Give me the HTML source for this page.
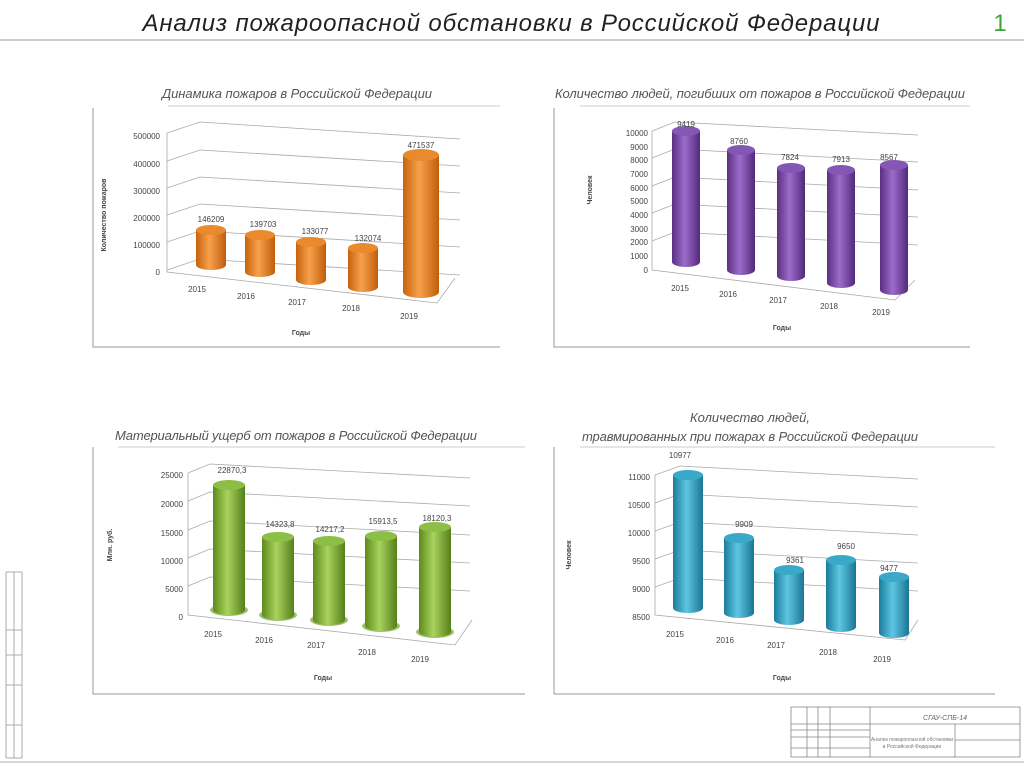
<!DOCTYPE html>
<html><head><meta charset="utf-8"><style>
html,body{margin:0;padding:0;background:#fff;}
svg{display:block;font-family:"Liberation Sans",sans-serif;}
</style></head><body>
<svg width="1024" height="767" viewBox="0 0 1024 767" xmlns="http://www.w3.org/2000/svg">
<defs>
<linearGradient id="go" x1="0" x2="1"><stop offset="0" stop-color="#c8620c"/><stop offset="0.45" stop-color="#f7a14d"/><stop offset="1" stop-color="#c05d0a"/></linearGradient>
<linearGradient id="gp" x1="0" x2="1"><stop offset="0" stop-color="#5b2f82"/><stop offset="0.45" stop-color="#9c6ccb"/><stop offset="1" stop-color="#52297a"/></linearGradient>
<linearGradient id="gg" x1="0" x2="1"><stop offset="0" stop-color="#5d8a1c"/><stop offset="0.45" stop-color="#a9d25e"/><stop offset="1" stop-color="#55801a"/></linearGradient>
<linearGradient id="gb" x1="0" x2="1"><stop offset="0" stop-color="#1b7c9c"/><stop offset="0.45" stop-color="#5ec6e2"/><stop offset="1" stop-color="#1a7593"/></linearGradient>
</defs>

<!-- header -->
<text x="511" y="31" text-anchor="middle" font-size="24" font-style="italic" fill="#222" textLength="737">Анализ пожароопасной обстановки в Российской Федерации</text>
<text x="1000" y="31" text-anchor="middle" font-size="24" fill="#3aa63a">1</text>
<line x1="0" y1="40" x2="1024" y2="40" stroke="#bbb" stroke-width="1.5"/>
<line x1="0" y1="762" x2="1024" y2="762" stroke="#ccc" stroke-width="1.5"/>

<!-- left stamp -->
<g stroke="#999" stroke-width="0.8" fill="none">
<rect x="6" y="572" width="16" height="186"/>
<line x1="14" y1="572" x2="14" y2="758"/>
<line x1="6" y1="630" x2="22" y2="630"/><line x1="6" y1="655" x2="22" y2="655"/>
<line x1="6" y1="685" x2="22" y2="685"/><line x1="6" y1="725" x2="22" y2="725"/>
</g>

<!-- title block -->
<g stroke="#888" stroke-width="0.8" fill="none">
<rect x="791" y="707" width="229" height="50"/>
<line x1="870" y1="707" x2="870" y2="757"/>
<line x1="791" y1="724" x2="1020" y2="724"/>
<line x1="791" y1="730" x2="870" y2="730"/><line x1="791" y1="737" x2="870" y2="737"/><line x1="791" y1="748" x2="870" y2="748"/>
<line x1="955" y1="724" x2="955" y2="757"/><line x1="955" y1="740" x2="1020" y2="740"/>
<line x1="807" y1="707" x2="807" y2="757"/><line x1="818" y1="707" x2="818" y2="757"/><line x1="830" y1="707" x2="830" y2="757"/>
</g>
<text x="945" y="720" font-size="7" fill="#666" font-style="italic" text-anchor="middle">СГАУ-СПБ-14</text>
<text x="912" y="741" font-size="5" fill="#777" text-anchor="middle">Анализ пожароопасной обстановки</text>
<text x="912" y="748" font-size="5" fill="#777" text-anchor="middle">в Российской Федерации</text>

<g font-size="8" fill="#444">
<!-- ============ Chart 1 ============ -->
<text x="297" y="98" text-anchor="middle" font-size="13" font-style="italic" fill="#555" textLength="270">Динамика пожаров в Российской Федерации</text>
<line x1="168" y1="106" x2="500" y2="106" stroke="#ccc"/>
<polyline points="93,108 93,347 500,347" fill="none" stroke="#999"/>
<g stroke="#aaa" stroke-width="0.8" fill="none">
<polyline points="167,133 200,122 460,139"/><polyline points="167,161 200,150 460,166"/>
<polyline points="167,188 200,177 460,193"/><polyline points="167,215 200,204 460,220"/>
<polyline points="167,242 200,231 460,247"/><polyline points="167,270 200,259 460,275"/>
<polyline points="167,133 167,272 437,303 455,278"/>
</g>
<g text-anchor="end"><text x="160" y="139">500000</text><text x="160" y="167">400000</text><text x="160" y="194">300000</text><text x="160" y="221">200000</text><text x="160" y="248">100000</text><text x="160" y="275">0</text></g>
<g fill="url(#go)">
<rect x="196" y="230" width="30" height="35"/><ellipse cx="211" cy="265" rx="15" ry="5"/><ellipse cx="211" cy="230" rx="15" ry="5" fill="#e98a2c"/>
<rect x="245" y="235" width="30" height="37"/><ellipse cx="260" cy="272" rx="15" ry="5"/><ellipse cx="260" cy="235" rx="15" ry="5" fill="#e98a2c"/>
<rect x="296" y="242" width="30" height="38"/><ellipse cx="311" cy="280" rx="15" ry="5"/><ellipse cx="311" cy="242" rx="15" ry="5" fill="#e98a2c"/>
<rect x="348" y="248" width="30" height="39"/><ellipse cx="363" cy="287" rx="15" ry="5"/><ellipse cx="363" cy="248" rx="15" ry="5" fill="#e98a2c"/>
<rect x="403" y="155" width="36" height="137"/><ellipse cx="421" cy="292" rx="18" ry="6"/><ellipse cx="421" cy="155" rx="18" ry="6" fill="#e98a2c"/>
</g>
<g text-anchor="middle"><text x="211" y="222">146209</text><text x="263" y="227">139703</text><text x="315" y="234">133077</text><text x="368" y="241">132074</text><text x="421" y="148">471537</text>
<text x="197" y="292">2015</text><text x="246" y="299">2016</text><text x="297" y="305">2017</text><text x="351" y="311">2018</text><text x="409" y="319">2019</text>
<text x="301" y="335" font-weight="bold" font-size="7">Годы</text></g>
<text transform="translate(106,215) rotate(-90)" text-anchor="middle" font-size="7" font-weight="bold">Количество  пожаров</text>

<!-- ============ Chart 2 ============ -->
<text x="760" y="98" text-anchor="middle" font-size="13" font-style="italic" fill="#555" textLength="410">Количество людей, погибших от пожаров в Российской Федерации</text>
<line x1="580" y1="106" x2="970" y2="106" stroke="#ccc"/>
<polyline points="554,108 554,347 970,347" fill="none" stroke="#999"/>
<g stroke="#aaa" stroke-width="0.8" fill="none">
<polyline points="652,131 675,122 918,135"/><polyline points="652,158 675,149 918,162"/>
<polyline points="652,186 675,177 918,190"/><polyline points="652,213 675,204 918,217"/>
<polyline points="652,241 675,232 918,245"/>
<polyline points="652,131 652,270 895,300 915,280"/>
</g>
<g text-anchor="end"><text x="648" y="136">10000</text><text x="648" y="150">9000</text><text x="648" y="163">8000</text><text x="648" y="177">7000</text><text x="648" y="191">6000</text><text x="648" y="204">5000</text><text x="648" y="218">4000</text><text x="648" y="232">3000</text><text x="648" y="245">2000</text><text x="648" y="259">1000</text><text x="648" y="273">0</text></g>
<g fill="url(#gp)">
<rect x="672" y="131" width="28" height="131"/><ellipse cx="686" cy="262" rx="14" ry="5"/><ellipse cx="686" cy="131" rx="14" ry="5" fill="#8557b5"/>
<rect x="727" y="150" width="28" height="120"/><ellipse cx="741" cy="270" rx="14" ry="5"/><ellipse cx="741" cy="150" rx="14" ry="5" fill="#8557b5"/>
<rect x="777" y="168" width="28" height="108"/><ellipse cx="791" cy="276" rx="14" ry="5"/><ellipse cx="791" cy="168" rx="14" ry="5" fill="#8557b5"/>
<rect x="827" y="170" width="28" height="113"/><ellipse cx="841" cy="283" rx="14" ry="5"/><ellipse cx="841" cy="170" rx="14" ry="5" fill="#8557b5"/>
<rect x="880" y="165" width="28" height="125"/><ellipse cx="894" cy="290" rx="14" ry="5"/><ellipse cx="894" cy="165" rx="14" ry="5" fill="#8557b5"/>
</g>
<g text-anchor="middle"><text x="686" y="127">9419</text><text x="739" y="144">8760</text><text x="790" y="160">7824</text><text x="841" y="162">7913</text><text x="889" y="160">8567</text>
<text x="680" y="291">2015</text><text x="728" y="297">2016</text><text x="778" y="303">2017</text><text x="829" y="309">2018</text><text x="881" y="315">2019</text>
<text x="782" y="330" font-weight="bold" font-size="7">Годы</text></g>
<text transform="translate(592,190) rotate(-90)" text-anchor="middle" font-size="7" font-weight="bold">Человек</text>

<!-- ============ Chart 3 ============ -->
<text x="296" y="440" text-anchor="middle" font-size="13" font-style="italic" fill="#555" textLength="362">Материальный ущерб от пожаров в Российской Федерации</text>
<line x1="118" y1="447" x2="525" y2="447" stroke="#ccc"/>
<polyline points="93,447 93,694 525,694" fill="none" stroke="#999"/>
<g stroke="#aaa" stroke-width="0.8" fill="none">
<polyline points="188,473 210,464 470,478"/><polyline points="188,501 210,492 470,506"/>
<polyline points="188,530 210,521 470,535"/><polyline points="188,558 210,549 470,563"/>
<polyline points="188,586 210,577 470,591"/>
<polyline points="188,473 188,615 455,645 472,620"/>
</g>
<g text-anchor="end"><text x="183" y="478">25000</text><text x="183" y="507">20000</text><text x="183" y="536">15000</text><text x="183" y="564">10000</text><text x="183" y="592">5000</text><text x="183" y="620">0</text></g>
<g fill="url(#gg)">
<ellipse cx="229" cy="610" rx="19" ry="6" fill="#9fc070"/><ellipse cx="278" cy="615" rx="19" ry="6" fill="#9fc070"/><ellipse cx="329" cy="620" rx="19" ry="6" fill="#9fc070"/><ellipse cx="381" cy="626" rx="19" ry="6" fill="#9fc070"/><ellipse cx="435" cy="632" rx="19" ry="6" fill="#9fc070"/>
<rect x="213" y="485" width="32" height="125"/><ellipse cx="229" cy="610" rx="16" ry="5"/><ellipse cx="229" cy="485" rx="16" ry="5" fill="#8cbf45"/>
<rect x="262" y="537" width="32" height="78"/><ellipse cx="278" cy="615" rx="16" ry="5"/><ellipse cx="278" cy="537" rx="16" ry="5" fill="#8cbf45"/>
<rect x="313" y="541" width="32" height="79"/><ellipse cx="329" cy="620" rx="16" ry="5"/><ellipse cx="329" cy="541" rx="16" ry="5" fill="#8cbf45"/>
<rect x="365" y="536" width="32" height="90"/><ellipse cx="381" cy="626" rx="16" ry="5"/><ellipse cx="381" cy="536" rx="16" ry="5" fill="#8cbf45"/>
<rect x="419" y="527" width="32" height="105"/><ellipse cx="435" cy="632" rx="16" ry="5"/><ellipse cx="435" cy="527" rx="16" ry="5" fill="#8cbf45"/>
</g>
<g text-anchor="middle"><text x="232" y="473">22870,3</text><text x="280" y="527">14323,8</text><text x="330" y="532">14217,2</text><text x="383" y="524">15913,5</text><text x="437" y="521">18120,3</text>
<text x="213" y="637">2015</text><text x="264" y="643">2016</text><text x="316" y="648">2017</text><text x="367" y="655">2018</text><text x="420" y="662">2019</text>
<text x="323" y="680" font-weight="bold" font-size="7">Годы</text></g>
<text transform="translate(112,545) rotate(-90)" text-anchor="middle" font-size="7" font-weight="bold">Млн. руб.</text>

<!-- ============ Chart 4 ============ -->
<text x="750" y="422" text-anchor="middle" font-size="13" font-style="italic" fill="#555">Количество людей,</text>
<text x="750" y="441" text-anchor="middle" font-size="13" font-style="italic" fill="#555" textLength="336">травмированных при пожарах в Российской Федерации</text>
<line x1="580" y1="447" x2="995" y2="447" stroke="#ccc"/>
<polyline points="554,447 554,694 995,694" fill="none" stroke="#999"/>
<g stroke="#aaa" stroke-width="0.8" fill="none">
<polyline points="655,475 680,466 918,479"/><polyline points="655,503 680,494 918,507"/>
<polyline points="655,531 680,522 918,535"/><polyline points="655,559 680,550 918,563"/>
<polyline points="655,587 680,578 918,591"/>
<polyline points="655,475 655,615 905,640 918,620"/>
</g>
<g text-anchor="end"><text x="650" y="480">11000</text><text x="650" y="508">10500</text><text x="650" y="536">10000</text><text x="650" y="564">9500</text><text x="650" y="592">9000</text><text x="650" y="620">8500</text></g>
<g fill="url(#gb)">
<rect x="673" y="475" width="30" height="133"/><ellipse cx="688" cy="608" rx="15" ry="5"/><ellipse cx="688" cy="475" rx="15" ry="5" fill="#3aa8c8"/>
<rect x="724" y="538" width="30" height="75"/><ellipse cx="739" cy="613" rx="15" ry="5"/><ellipse cx="739" cy="538" rx="15" ry="5" fill="#3aa8c8"/>
<rect x="774" y="570" width="30" height="50"/><ellipse cx="789" cy="620" rx="15" ry="5"/><ellipse cx="789" cy="570" rx="15" ry="5" fill="#3aa8c8"/>
<rect x="826" y="560" width="30" height="67"/><ellipse cx="841" cy="627" rx="15" ry="5"/><ellipse cx="841" cy="560" rx="15" ry="5" fill="#3aa8c8"/>
<rect x="879" y="577" width="30" height="56"/><ellipse cx="894" cy="633" rx="15" ry="5"/><ellipse cx="894" cy="577" rx="15" ry="5" fill="#3aa8c8"/>
</g>
<g text-anchor="middle"><text x="680" y="458">10977</text><text x="744" y="527">9909</text><text x="795" y="563">9361</text><text x="846" y="549">9650</text><text x="889" y="571">9477</text>
<text x="675" y="637">2015</text><text x="725" y="643">2016</text><text x="776" y="648">2017</text><text x="828" y="655">2018</text><text x="882" y="662">2019</text>
<text x="782" y="680" font-weight="bold" font-size="7">Годы</text></g>
<text transform="translate(571,555) rotate(-90)" text-anchor="middle" font-size="7" font-weight="bold">Человек</text>
</g>
</svg>
</body></html>
